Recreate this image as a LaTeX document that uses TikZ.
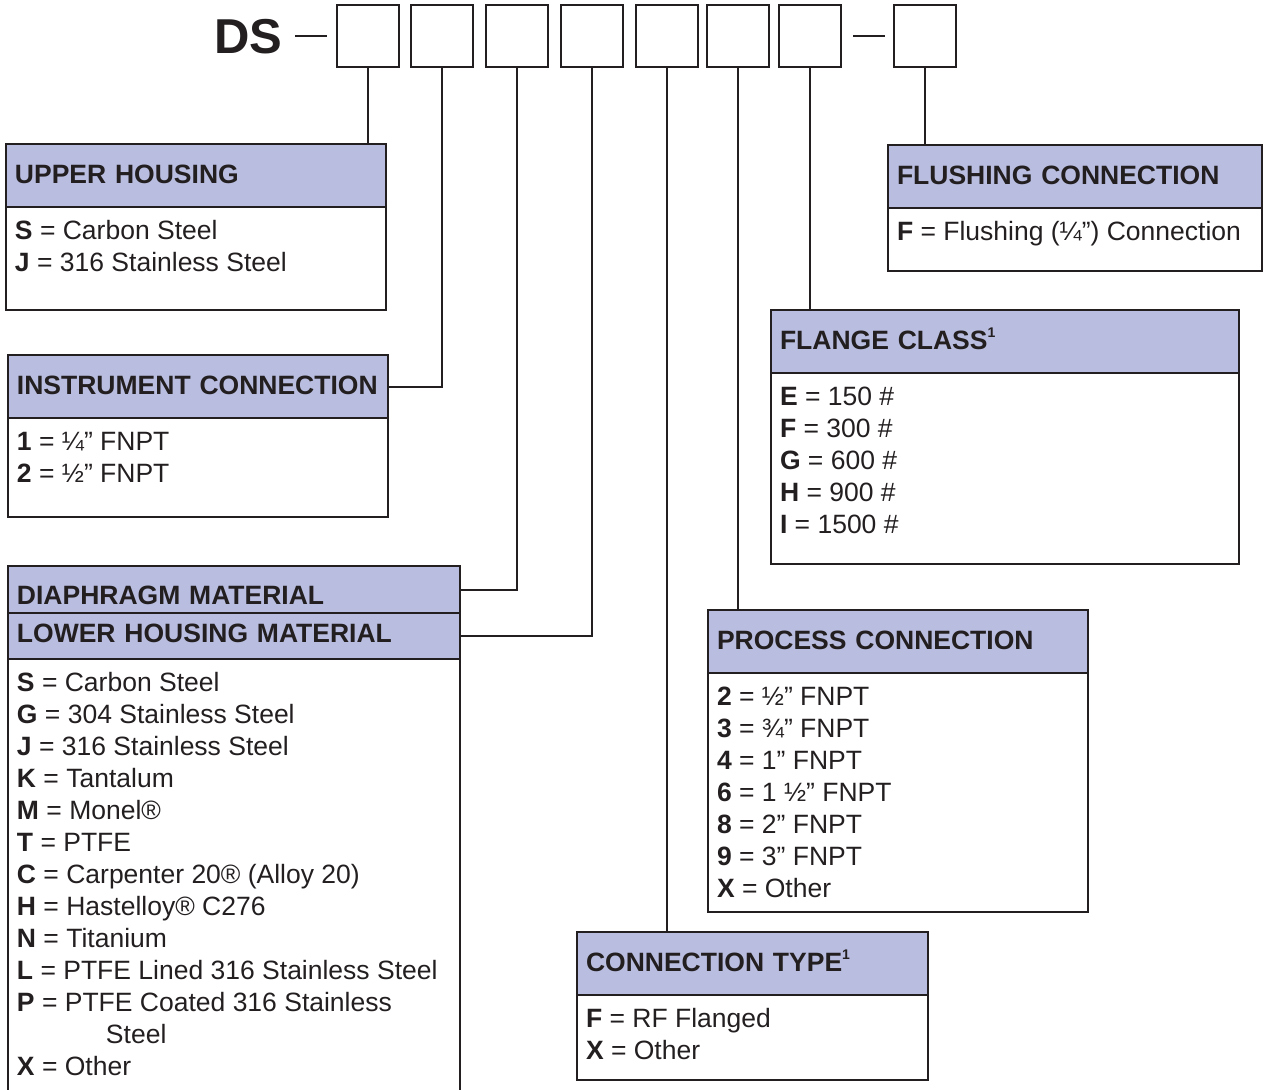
\documentclass[tikz,border=0pt]{standalone}
\usepackage{fontspec}
\setmainfont{Liberation Sans}
\definecolor{ink}{HTML}{231F20}
\definecolor{lavender}{HTML}{B9BDDF}
\tikzset{
  codebox/.style={draw=ink, line width=1pt, minimum size=31pt, inner sep=0},
  headbox/.style={draw=ink, line width=1pt, fill=lavender, text=ink, minimum height=31.5pt,
    inner xsep=4.5pt, inner ysep=0, outer sep=0, text height=9.5pt, text depth=2pt,
    align=left, font=\fontsize{13.25}{16}\selectfont\bfseries},
  bodybox/.style={draw=ink, line width=1pt, text=ink, inner xsep=4.5pt, inner ysep=0,
    outer sep=0, font=\fontsize{13.25}{16}\selectfont},
  link/.style={draw=ink, line width=1pt},
}

\begin{document}
\begin{tikzpicture}[x=0.5pt, y=-0.5pt]
\useasboundingbox (0,0) rectangle (1265,1089);
\def\optbody#1#2#3#4{% name, header above, body height, entries
  \pgfmathsetmacro\bodyh{#3/2}
  \node[bodybox, anchor=north west] (#1b) at (#2.south west)
    {\parbox[c][\bodyh pt][t]{\textw pt}{\rule{0pt}{16.25pt}#4}};
}
\def\optbox#1#2#3#4#5#6{% name, top left corner, width, body height, title, entries
  \pgfmathsetmacro\textw{#3/2-9}
  \node[headbox, text width=\textw pt, anchor=north west] (#1h) at #2 {\mbox{#5}};
  \optbody{#1}{#1h}{#4}{#6}
}
\def\one{\raisebox{0.8ex}{\fontsize{7}{7}\selectfont 1}}
    % Model code
\node[anchor=east, inner sep=0, text=ink, font=\fontsize{24.5}{24.5}\selectfont\bfseries] (ds) at (283,37) {DS};
\foreach \x [count=\i] in {368,442,517,592,667,738,810,924.5}
  \node[codebox] (c\i) at (\x,36) {};
\draw[link, shorten <=6pt, shorten >=4.5pt] (ds.east |- c1.west) -- (c1.west);
\draw[link, shorten <=5.5pt, shorten >=4pt] (c7.east) -- (c8.west);
    % Option tables
\optbox{uh}{(6,144)}{380}{103}{UPPER HOUSING}{%
  \textbf{S} = Carbon Steel\\ \textbf{J} = 316 Stainless Steel}
\optbox{fl}{(888,145)}{374}{63}{FLUSHING CONNECTION}{%
  \textbf{F} = Flushing (¼”) Connection}
\optbox{ic}{(8,355)}{380}{99}{INSTRUMENT CONNECTION}{%
  \textbf{1} = ¼” FNPT\\ \textbf{2} = ½” FNPT}
\optbox{fc}{(771,310)}{468}{191}{FLANGE CLASS\one}{%
  \textbf{E} = 150 \#\\ \textbf{F} = 300 \#\\ \textbf{G} = 600 \#\\
  \textbf{H} = 900 \#\\ \textbf{I} = 1500 \#}
\optbox{pc}{(708,610)}{380}{239}{PROCESS CONNECTION}{%
  \textbf{2} = ½” FNPT\\ \textbf{3} = ¾” FNPT\\ \textbf{4} = 1” FNPT\\
  \textbf{6} = 1 ½” FNPT\\ \textbf{8} = 2” FNPT\\ \textbf{9} = 3” FNPT\\
  \textbf{X} = Other}
\optbox{ct}{(577,932)}{351}{85}{CONNECTION TYPE\one}{%
  \textbf{F} = RF Flanged\\ \textbf{X} = Other}
\pgfmathsetmacro\textw{452/2-9}
\node[headbox, minimum height=23.5pt, text height=14.5pt, text depth=0pt, text width=\textw pt,
  anchor=north west] (dmh) at (8,566) {DIAPHRAGM MATERIAL};
\node[headbox, minimum height=23pt, text depth=3pt, text width=\textw pt,
  anchor=north west] (lhh) at (dmh.south west) {LOWER HOUSING MATERIAL};
\optbody{dm}{lhh}{460}{%
  \textbf{S} = Carbon Steel\\ \textbf{G} = 304 Stainless Steel\\
  \textbf{J} = 316 Stainless Steel\\ \textbf{K} = Tantalum\\
  \textbf{M} = Monel®\\ \textbf{T} = PTFE\\
  \textbf{C} = Carpenter 20® (Alloy 20)\\ \textbf{H} = Hastelloy® C276\\
  \textbf{N} = Titanium\\ \textbf{L} = PTFE Lined 316 Stainless Steel\\
  \textbf{P} = PTFE Coated 316 Stainless\\ \hspace*{44.5pt}Steel\\
  \textbf{X} = Other}
    % Links from code boxes to tables
\draw[link] (c1.south) -- (c1.south |- uhh.north);
\draw[link] (c2.south) |- (ich.east);
\draw[link] (c3.south) |- (dmh.east);
\draw[link] (c4.south) |- (lhh.east);
\draw[link] (c5.south) -- (c5.south |- cth.north);
\draw[link] (c6.south) -- (c6.south |- pch.north);
\draw[link] (c7.south) -- (c7.south |- fch.north);
\draw[link] (c8.south) -- (c8.south |- flh.north);
\end{tikzpicture}
\end{document}
